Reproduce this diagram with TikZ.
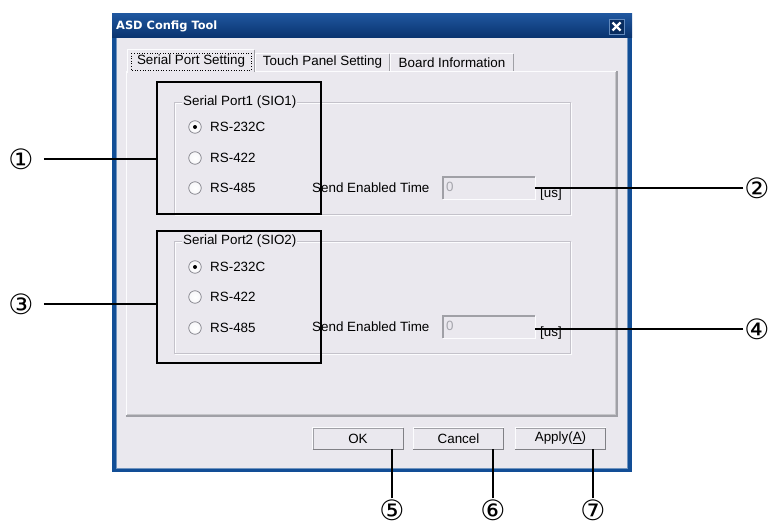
\documentclass[tikz,border=0pt]{standalone}
\usepackage{fontspec}
\usetikzlibrary{calc}
\setmainfont{Liberation Sans}
\newfontfamily\titlefont{DejaVu Sans}
\newfontfamily\numfont{DejaVu Sans}
\definecolor{dlgbg}{RGB}{234,232,238}
\definecolor{titletop}{RGB}{32,88,160}
\definecolor{titlebot}{RGB}{10,52,112}
\definecolor{frameblue}{RGB}{18,78,150}
\definecolor{edgedark}{RGB}{160,160,166}
\definecolor{edgelight}{RGB}{252,252,254}
\definecolor{etch}{RGB}{196,194,202}
\definecolor{greytext}{RGB}{165,165,172}
\definecolor{radioedge}{RGB}{128,128,136}
\tikzset{
  uitext/.style={font=\fontsize{13.4}{15}\selectfont, inner sep=0pt, text=black},
  tablabel/.style={uitext},
  btn/.style={draw=edgedark, fill=dlgbg, minimum width=90pt, minimum height=21pt, inner sep=0pt, font=\fontsize{13.4}{15}\selectfont},
  editbox/.style={draw=edgedark, fill=dlgbg, minimum width=92pt, minimum height=22pt, inner sep=0pt},
  radio/.style={circle, draw=radioedge, line width=0.7pt, inner color=white, outer color=dlgbg!40!white, minimum size=12.5pt, inner sep=0pt},
  hilite/.style={draw=black, line width=2.6pt, inner sep=0pt},
  callnum/.style={font=\numfont\fontsize{28}{28}\selectfont, inner sep=1pt},
  callline/.style={draw=black, line width=2.4pt},
  grouplabel/.style={uitext, fill=dlgbg, inner xsep=1pt, anchor=west},
}
\begin{document}
\begin{tikzpicture}[x=1pt,y=-1pt]
\useasboundingbox[fill=white] (0,0) rectangle (772,522);

% window frame and body
\fill[frameblue] (112,13) rectangle (632,472);
\fill[dlgbg] (116,37) rectangle (628,469);
\draw[frameblue!60!white, line width=0.8pt] (116.5,37) -- (116.5,468.5) -- (627.5,468.5) -- (627.5,37);
\shade[top color=titletop, bottom color=titlebot] (112,13) rectangle (632,37);
\node[anchor=west, text=white, inner sep=0pt, font=\titlefont\bfseries\fontsize{11.4}{13}\selectfont] (title) at (116,26) {ASD Config Tool};

% close box
\node[draw=titletop!70!white, fill=titlebot!85!black, minimum size=15pt, inner sep=0pt] (close) at (616.5,26.5) {};
\draw[white, line width=2.2pt] ($(close.center)+(-4,-4)$) -- ($(close.center)+(4,4)$);
\draw[white, line width=2.2pt] ($(close.center)+(-4,4)$) -- ($(close.center)+(4,-4)$);

% tab panel
\fill[dlgbg] (126,71) rectangle (618,417);
\draw[edgelight, line width=1pt] (126.5,416) -- (126.5,71.5) -- (617,71.5);
\draw[edgedark, line width=1.6pt] (126,416.2) -- (617.2,416.2) -- (617.2,71);
\draw[edgedark!60!white, line width=0.8pt] (127,414.6) -- (615.6,414.6) -- (615.6,72);

% unselected tabs
\foreach \xa/\xb in {255/390, 390/514} {
  \fill[dlgbg] (\xa,53) rectangle (\xb,71);
  \draw[edgelight, line width=1pt] (\xa+0.5,71) -- (\xa+0.5,53.5) -- (\xb-1,53.5);
  \draw[edgedark, line width=1.2pt] (\xb-0.6,54) -- (\xb-0.6,71);
}
% selected tab
\fill[dlgbg] (127,49) rectangle (255,73);
\draw[edgelight, line width=1pt] (127.5,73) -- (127.5,49.5) -- (254,49.5);
\draw[edgedark, line width=1.2pt] (254.4,50) -- (254.4,72);
\draw[black, dotted, line width=0.6pt] (131,53) rectangle (251,70);
\node[tablabel] (tab1) at (191,61.5) {Serial Port Setting};
\node[tablabel] (tab2) at (322.5,62.5) {Touch Panel Setting};
\node[tablabel] (tab3) at (452,62.5) {Board Information};

% group boxes
\foreach \ya/\yb in {102/214, 241/353} {
  \draw[edgelight, line width=1pt] (175,\ya+1) rectangle (571,\yb+1);
  \draw[etch, line width=1pt] (174,\ya) rectangle (570,\yb);
}
\node[grouplabel] (g1) at (182,102) {Serial Port1 (SIO1)};
\node[grouplabel] (g2) at (182,241) {Serial Port2 (SIO2)};

% radio buttons
\node[radio] (r11) at (195,127) {};
\node[radio] (r12) at (195,158) {};
\node[radio] (r13) at (195,188) {};
\node[radio] (r21) at (195,267) {};
\node[radio] (r22) at (195,297) {};
\node[radio] (r23) at (195,328) {};
\fill[black] (r11) circle (2);
\fill[black] (r21) circle (2);
\node[uitext, anchor=west] (l11) at (210,127) {RS-232C};
\node[uitext, anchor=west] (l12) at (210,158) {RS-422};
\node[uitext, anchor=west] (l13) at (210,188) {RS-485};
\node[uitext, anchor=west] (l21) at (210,267) {RS-232C};
\node[uitext, anchor=west] (l22) at (210,297) {RS-422};
\node[uitext, anchor=west] (l23) at (210,328) {RS-485};

% send enabled time fields
\node[uitext, anchor=west] (s1) at (312,188) {Send Enabled Time};
\node[uitext, anchor=west] (s2) at (312,327) {Send Enabled Time};
\node[editbox] (edit1) at (489,188) {};
\node[editbox] (edit2) at (489,327) {};
\foreach \n in {edit1, edit2} {
  \draw[edgelight, line width=1pt] (\n.south west) -| (\n.north east);
  \draw[edgedark, line width=1pt] (\n.south west) |- (\n.north east);
}
\node[uitext, text=greytext, anchor=west] (v1) at (446,187) {0};
\node[uitext, text=greytext, anchor=west] (v2) at (446,326) {0};
\node[uitext, anchor=west] (u1) at (540,194) {[us]};
\node[uitext, anchor=west] (u2) at (540,333) {[us]};

% dialog buttons
\node[btn] (ok) at (358,438.5) {OK};
\node[btn] (cancel) at (458.5,438.5) {Cancel};
\node[btn] (apply) at (560.5,438.5) {Apply(\underline{A})};
\foreach \n in {ok, cancel, apply} {
  \draw[edgelight, line width=1pt] (\n.south west) |- (\n.north east);
  \draw[edgedark!80!black, line width=1.4pt] (\n.south west) -| (\n.north east);
}

% highlight frames
\node[hilite, minimum width=164pt, minimum height=132pt] (hl1) at (239,148) {};
\node[hilite, minimum width=164pt, minimum height=132pt] (hl2) at (239,297) {};

% callout numbers
\node[callnum] (c1) at (21,159) {①};
\node[callnum] (c2) at (757,188) {②};
\node[callnum] (c3) at (21,304) {③};
\node[callnum] (c4) at (757,329) {④};
\node[callnum] (c5) at (392,510) {⑤};
\node[callnum] (c6) at (493,510) {⑥};
\node[callnum] (c7) at (593,510) {⑦};

% leader lines
\draw[callline] ($(c1.east)+(9,0)$) -- (c1.east -| hl1.west);
\draw[callline] ($(c3.east)+(9,0)$) -- (c3.east -| hl2.west);
\draw[callline] (c2.west) -- (c2.west -| edit1.east);
\draw[callline] (c4.west) -- (c4.west -| edit2.east);
\draw[callline] (c5.north) -- (c5.north |- ok.south);
\draw[callline] (c6.north) -- (c6.north |- cancel.south);
\draw[callline] (c7.north) -- (c7.north |- apply.south);
\end{tikzpicture}
\end{document}
